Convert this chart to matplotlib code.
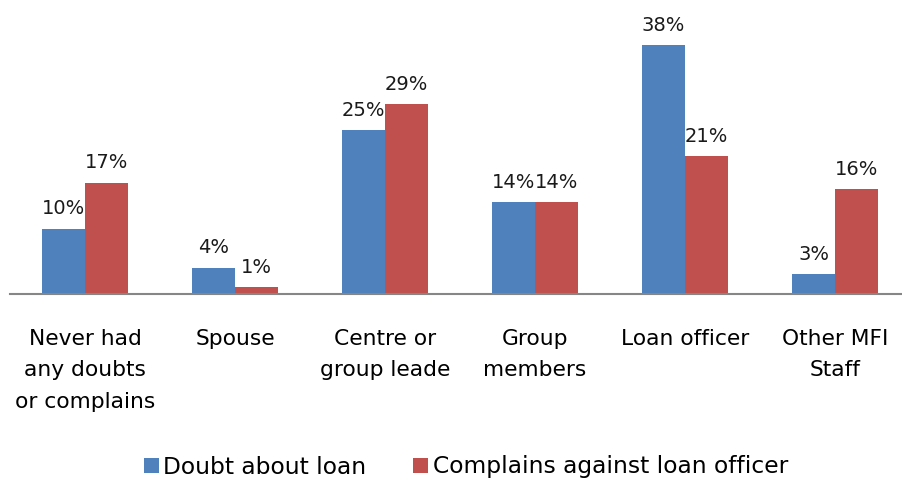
import numpy as np
import matplotlib.pyplot as plt

categories = ["Never had\nany doubts\nor complains", "Spouse", "Centre or\ngroup leade",
              "Group\nmembers", "Loan officer", "Other MFI\nStaff"]
doubt = [10, 4, 25, 14, 38, 3]
complains = [17, 1, 29, 14, 21, 16]
series_names = ["Doubt about loan", "Complains against loan officer"]

blue = "#4F81BD"
red = "#C0504D"

plt.rcParams['font.family'] = ['DejaVu Sans']

fig = plt.figure(figsize=(9.02, 4.8), dpi=100)
# plot area: baseline at y=294px, 6.55 px per percent
ax = fig.add_axes([10 / 902, 186 / 480, 900 / 902, 262 / 480])

x = np.arange(len(categories))
w = 0.285
b1 = ax.bar(x - w / 2, doubt, w, color=blue, label=series_names[0])
b2 = ax.bar(x + w / 2, complains, w, color=red, label=series_names[1])

for bars, vals in ((b1, doubt), (b2, complains)):
    for rect, v in zip(bars, vals):
        ax.text(rect.get_x() + rect.get_width() / 2, v + 1.6, f"{v}%",
                ha='center', va='bottom', fontsize=14, color='#1a1a1a', clip_on=False)

ax.set_xlim(-0.5, len(categories) - 0.5)
ax.set_ylim(0, 40)
ax.set_xticks(x)
ax.set_xticklabels(categories, fontsize=15.7, linespacing=1.72, va='top')
ax.tick_params(axis='x', length=0, pad=25)
ax.set_yticks([])
for side in ('top', 'right', 'left'):
    ax.spines[side].set_visible(False)
ax.spines['bottom'].set_color('#868686')
ax.spines['bottom'].set_linewidth(1.5)

fig.legend(handles=[b1, b2], loc='center', bbox_to_anchor=(466 / 902, 1 - 467 / 480),
           ncol=2, frameon=False, fontsize=16.8, handlelength=0.65, handleheight=0.65,
           handletextpad=0.2, columnspacing=2.0)

fig.savefig("out.png", dpi=100)
